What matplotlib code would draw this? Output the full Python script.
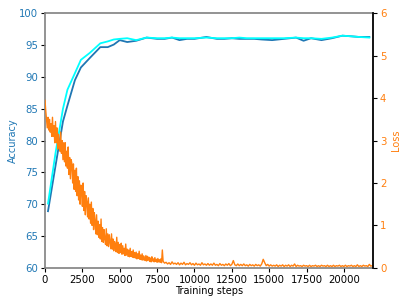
import matplotlib
matplotlib.use("Agg")
import matplotlib.pyplot as plt

# accuracy evaluation points
acc_steps = [200, 700, 1200, 1500, 2000, 2400, 3000, 3700, 4200, 4600, 5000, 5500,
             6100, 6800, 7500, 8000, 8500, 9000, 9500, 10000, 10800, 11500, 12000,
             12500, 13000, 13500, 14000, 14500, 15200, 16000, 16800, 17300, 17800,
             18500, 19200, 19900, 20500, 21000, 21700]
acc_dark = [68.9, 76.0, 83.0, 85.5, 89.5, 91.5, 93.0, 94.7, 94.7, 95.1, 95.8, 95.5,
            95.7, 96.2, 96.0, 96.0, 96.2, 95.8, 96.0, 96.0, 96.3, 96.0, 96.0,
            96.1, 96.0, 96.0, 96.0, 95.9, 95.8, 96.0, 96.2, 95.7, 96.1,
            95.8, 96.1, 96.5, 96.4, 96.3, 96.3]
acc_cyan = [70.1, 78.0, 85.0, 88.0, 90.6, 92.7, 93.8, 95.3, 95.6, 95.9, 96.0, 96.1,
            95.8, 96.2, 96.1, 96.1, 96.2, 96.1, 96.1, 96.1, 96.2, 96.1, 96.1,
            96.1, 96.2, 96.1, 96.1, 96.1, 96.1, 96.1, 96.2, 96.1, 96.1,
            96.0, 96.2, 96.5, 96.4, 96.3, 96.2]

# training loss: every 50 steps up to 8000, then every 100
loss_early = [3.95, 3.70, 3.50, 3.30, 3.55, 3.25, 3.50, 3.20, 3.40, 3.10, 3.55,
              3.10, 3.35, 2.95, 3.45, 2.95, 3.30, 2.80, 3.15, 2.90, 2.75,
              3.20, 2.70, 3.00, 2.55, 2.95, 2.50, 2.95, 2.40, 2.75, 2.35,
              2.85, 2.20, 2.60, 2.10, 2.55, 2.45, 2.00, 2.45, 1.85, 2.30,
              1.80, 2.35, 1.70, 2.15, 1.60, 2.05, 1.50, 1.95, 1.80, 1.45,
              2.00, 1.35, 1.80, 1.25, 1.70, 1.55, 1.20, 1.65, 1.15, 1.50,
              1.05, 1.55, 1.00, 1.40, 0.90, 1.30, 1.10, 0.80, 1.25, 0.78,
              1.10, 0.72, 1.02, 0.68, 1.15, 0.62, 0.95, 0.60, 0.90, 0.68,
              0.55, 0.92, 0.52, 0.80, 0.50, 0.78, 0.62, 0.45, 0.80, 0.44,
              0.68, 0.40, 0.62, 0.55, 0.38, 0.72, 0.36, 0.60, 0.34, 0.55,
              0.36, 0.58, 0.32, 0.52, 0.33, 0.46, 0.29, 0.56, 0.30, 0.44,
              0.27, 0.42, 0.26, 0.46, 0.27, 0.38, 0.25, 0.42, 0.24, 0.36,
              0.23, 0.37, 0.21, 0.33, 0.22, 0.39, 0.20, 0.30, 0.19, 0.33,
              0.18, 0.28, 0.21, 0.17, 0.29, 0.16, 0.27, 0.18, 0.25, 0.15,
              0.23, 0.14, 0.26, 0.16, 0.21, 0.14, 0.24, 0.15, 0.20, 0.13,
              0.22, 0.14, 0.19, 0.13, 0.21, 0.12, 0.42, 0.16, 0.13, 0.11]
loss_late = [0.13, 0.09, 0.12, 0.08, 0.14, 0.09, 0.11, 0.08, 0.12, 0.07,
             0.11, 0.08, 0.13, 0.07, 0.10, 0.08, 0.12, 0.07, 0.10, 0.06,
             0.11, 0.07, 0.09, 0.06, 0.12, 0.07, 0.09, 0.06, 0.10, 0.06,
             0.09, 0.06, 0.11, 0.06, 0.08, 0.05, 0.10, 0.06, 0.08, 0.05,
             0.09, 0.06, 0.10, 0.05, 0.08, 0.17, 0.07, 0.05, 0.09, 0.05,
             0.08, 0.05, 0.09, 0.05, 0.07, 0.04, 0.08, 0.05, 0.07, 0.04,
             0.08, 0.05, 0.07, 0.04, 0.09, 0.20, 0.12, 0.05, 0.08, 0.04,
             0.07, 0.04, 0.06, 0.04, 0.07, 0.03, 0.06, 0.04, 0.07, 0.03,
             0.06, 0.04, 0.07, 0.03, 0.06, 0.04, 0.09, 0.03, 0.06, 0.04,
             0.05, 0.03, 0.06, 0.04, 0.05, 0.03, 0.06, 0.03, 0.05, 0.04,
             0.06, 0.03, 0.05, 0.03, 0.06, 0.04, 0.05, 0.03, 0.06, 0.03,
             0.05, 0.03, 0.06, 0.03, 0.05, 0.04, 0.06, 0.03, 0.05, 0.03,
             0.06, 0.03, 0.05, 0.04, 0.06, 0.03, 0.05, 0.03, 0.07, 0.03,
             0.05, 0.03, 0.06, 0.04, 0.05, 0.03, 0.08, 0.04, 0.05]
loss_steps = list(range(0, 8001, 50)) + list(range(8100, 8100 + 100 * len(loss_late), 100))
loss = loss_early + loss_late

fig = plt.figure(figsize=(4.07, 3.05), dpi=100)
ax1 = fig.add_axes([0.1106, 0.122, 0.806, 0.834])
ax2 = ax1.twinx()

ax1.plot(acc_steps, acc_dark, color="#1f77b4", lw=1.3)
ax1.plot(acc_steps, acc_cyan, color="cyan", lw=1.3)
ax2.plot(loss_steps, loss, color="#ff7f0e", lw=1.0)

ax1.set_xlim(0, 21950)
ax1.set_ylim(60, 100)
ax2.set_ylim(0, 6)
ax1.set_xticks([0, 2500, 5000, 7500, 10000, 12500, 15000, 17500, 20000])

ax1.set_xlabel("Training steps", fontsize=7, labelpad=1)
ax1.set_ylabel("Accuracy", fontsize=7, color="#1f77b4", labelpad=1)
ax2.set_ylabel("Loss", fontsize=7, color="#ff7f0e", labelpad=3)
ax1.tick_params(axis="x", labelsize=7.3, length=3, pad=2)
ax1.tick_params(axis="y", labelsize=7.3, length=3, pad=2, labelcolor="#1f77b4")
ax2.tick_params(axis="y", labelsize=7.3, length=3, pad=2, labelcolor="#ff7f0e")

for s in ax1.spines.values():
    s.set_color("#808080")
    s.set_linewidth(1.2)
for name in ["left", "top", "bottom"]:
    ax2.spines[name].set_visible(False)
ax2.spines["right"].set_color("black")
ax2.spines["right"].set_linewidth(1.2)

fig.savefig("out.png", dpi=100)
